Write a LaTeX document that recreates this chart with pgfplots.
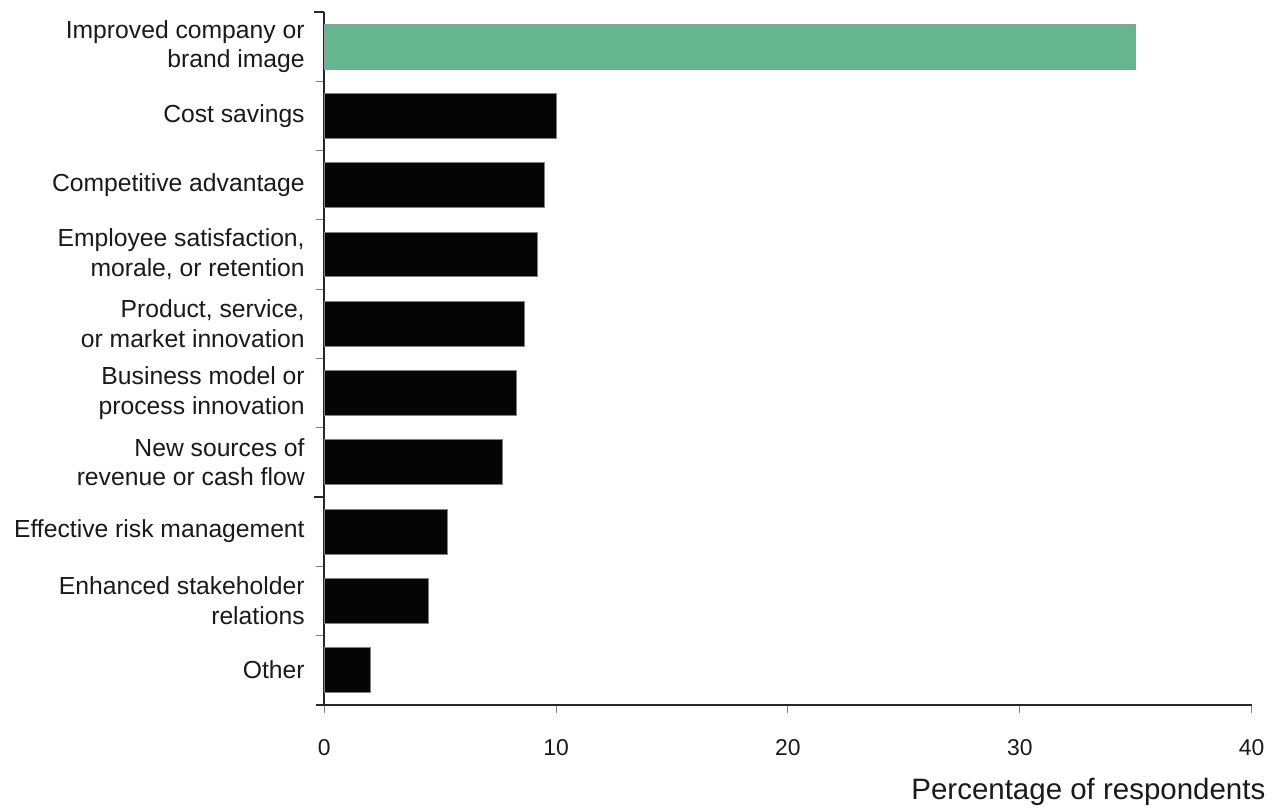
\documentclass[border=0pt]{standalone}
\usepackage{fontspec}
\setmainfont{Liberation Sans}
\usepackage{pgfplots}
\pgfplotsset{compat=1.18}
\definecolor{barGreen}{RGB}{102,182,146}
\definecolor{txt}{RGB}{26,26,26}
\definecolor{axln}{RGB}{40,40,40}
\begin{document}
\begin{tikzpicture}
\begin{axis}[
  scale only axis,
  width=465.75pt, height=347.85pt,
  xmin=0, xmax=40,
  ymin=-0.5, ymax=9.5,
  y dir=reverse,
  axis x line=bottom, axis y line=left,
  axis line style={-, draw=axln, line width=1.1pt},
  x axis line style={shorten <=-4.25pt},
  xtick={0,10,20,30,40},
  ytick={0,...,9},
  yticklabels={{Improved company or\\brand image},{Cost savings},{Competitive advantage},{Employee satisfaction,\\morale, or retention},{Product, service,\\or market innovation},{Business model or\\process innovation},{New sources of\\revenue or cash flow},{Effective risk management},{Enhanced stakeholder\\relations},{Other}},
  minor ytick={0.5,1.5,...,5.5,7.5,8.5},
  extra y ticks={-0.5,6.5},
  extra y tick labels={},
  tick align=outside,
  ytick style={draw=none},
  extra y tick style={major tick length=5pt, ytick style={draw=axln, line width=1pt}},
  minor y tick style={draw=gray, line width=0.5pt},
  minor tick length=4pt,
  xtick style={draw=gray, line width=0.5pt},
  major tick length=4pt,
  /pgf/number format/assume math mode=true,
  yticklabel style={font=\fontsize{12.4}{15}\selectfont, text=txt, align=right, anchor=east, xshift=-2.25pt},
  xticklabel style={font=\fontsize{11.5}{13}\selectfont, text=txt, anchor=north, yshift=-10pt},
  xlabel={Percentage of respondents},
  xlabel style={font=\fontsize{14.8}{17}\selectfont, text=txt, at={(axis description cs:1,0)}, anchor=base east, xshift=10.4pt, yshift=-47.4pt},
  clip=false,
]
\addplot[xbar, bar width=22.5pt, bar shift=0pt, fill=barGreen, draw=gray!80, line width=0.4pt] coordinates {(35,0)};
\addplot[xbar, bar width=22.5pt, bar shift=0pt, fill=black!98, draw=gray, line width=0.4pt] coordinates {
(10,1) (9.5,2) (9.2,3) (8.65,4) (8.3,5) (7.7,6) (5.3,7) (4.5,8) (2.0,9)};
\coordinate (O) at (rel axis cs:0,0);
\end{axis}
\path (O) ++(-162.75pt,-51.15pt) rectangle ++(636pt,405pt);
\end{tikzpicture}
\end{document}
